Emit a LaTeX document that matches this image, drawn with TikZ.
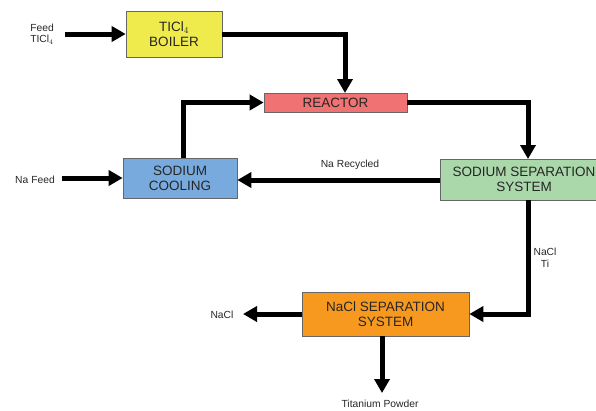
\documentclass[tikz,border=0pt]{standalone}
\usepackage{fontspec}
\setmainfont{Liberation Sans}
\usetikzlibrary{arrows.meta}
\definecolor{cboil}{HTML}{F0EB4C}
\definecolor{creac}{HTML}{F07272}
\definecolor{ccool}{HTML}{78AADE}
\definecolor{csep}{HTML}{AAD8AA}
\definecolor{cnacl}{HTML}{F7991F}
\begin{document}
\begin{tikzpicture}[x=1pt,y=-1pt,
  box/.style={draw=black!60,line width=0.6pt,inner sep=0pt,align=center,text=black!85,font=\fontsize{13.5}{15}\selectfont},
  lbl/.style={font=\fontsize{10.3}{11.5}\selectfont,text=black!85,align=center,inner sep=1pt},
  flow/.style={line width=5pt,-{Triangle[width=15pt,length=14pt]}}]
\useasboundingbox (0,0) rectangle (596,410);
\node[box,fill=cboil,minimum width=96pt,minimum height=46pt] (boil) at (174,34) {TICl$_4$\\BOILER};
\node[box,fill=creac,minimum width=143pt,minimum height=19pt] (reac) at (335.5,102.5) {REACTOR};
\node[box,fill=ccool,minimum width=114pt,minimum height=40pt] (cool) at (180,178) {SODIUM\\COOLING};
\node[box,fill=csep,minimum width=168pt,minimum height=41pt] (sep) at (524,179.5) {SODIUM SEPARATION\\SYSTEM};
\node[box,fill=cnacl,minimum width=167pt,minimum height=44pt] (nacl) at (385.5,314) {NaCl SEPARATION\\SYSTEM};
\node[lbl] (feed) at (42,34) {Feed\\TICl$_4$};
\node[lbl] (nafeed) at (35,180) {Na Feed};
\node[lbl] (naclout) at (222,315) {NaCl};
\node[lbl] (ti) at (380,404) {Titanium Powder};
\node[lbl] (narec) at (350,165) {Na Recycled};
\node[lbl] (nati) at (545,258) {NaCl\\Ti};
\coordinate (feedend) at (65,34);
\coordinate (nafeedend) at (62,178);
\coordinate (naclend) at (243,314);
\coordinate (tiend) at (382,393);
\draw[flow] (feedend) -- (boil.west);
\draw[flow] (nafeedend) -- (cool.west);
\draw[flow] (boil.east) -| (345,93);
\draw[flow] (183,158) |- (reac.west);
\draw[flow] (reac.east) -| (528,159);
\draw[flow] (sep.west |- 0,180) -- (cool.east |- 0,180);
\draw[flow] (528,200) |- (nacl.east);
\draw[flow] (nacl.west) -- (naclend);
\draw[flow] (nacl.south -| tiend) -- (tiend);
\end{tikzpicture}
\end{document}
